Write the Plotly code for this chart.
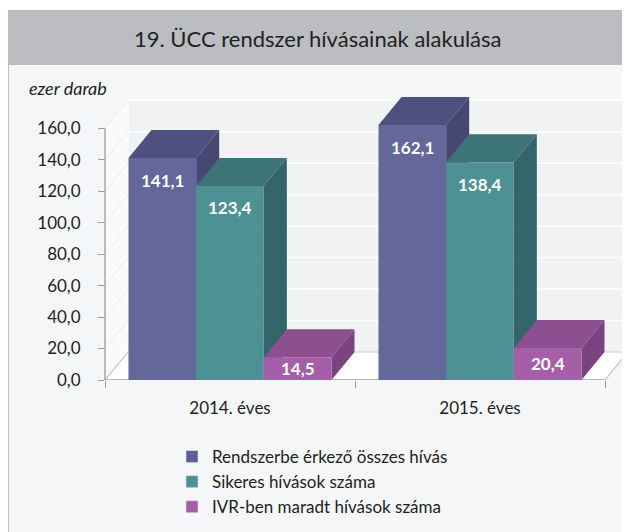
import plotly.graph_objects as go

# ---- data ----
categories = ["2014. éves", "2015. éves"]
series_names = ["Rendszerbe érkező összes hívás", "Sikeres hívások száma", "IVR-ben maradt hívások száma"]
total_calls = [141.1, 162.1]
successful_calls = [123.4, 138.4]
ivr_calls = [14.5, 20.4]
y_ticks = [0, 20, 40, 60, 80, 100, 120, 140, 160]
title_text = "19. ÜCC rendszer hívásainak alakulása"
unit_text = "ezer darab"

series_values = [total_calls, successful_calls, ivr_calls]
front_colors = ["#63679a", "#4e9195", "#a55ea8"]
top_colors = ["#4e5180", "#3d7478", "#8c4f90"]
side_colors = ["#464872", "#346568", "#7b4480"]
legend_colors = ["#5c5f97", "#4e9195", "#a55ea8"]

FONT = "Lato"
OFF = 8  # page body margin offset
W, H = 630 - OFF, 532 - OFF
ML, MR, MT, MB = 105 - OFF, 0, 89 - OFF, 152
PW, PH = W - ML - MR, H - MT - MB
XR = [-0.5, 1.6]
YR = [0, 185]
bar_w = 0.2707
dx = 0.092   # depth in x units
dy = 17.8    # depth in y units
xpos = [0, 1]


def px_x(p):
    # p given in reference-image pixels
    return (p - OFF - ML) / PW


def px_y(p):
    return (H - MB - (p - OFF)) / PH


fig = go.Figure()

shapes = []
# page panels (paper)
shapes.append(dict(type="rect", xref="paper", yref="paper", x0=px_x(8), x1=px_x(640),
                   y0=px_y(540), y1=px_y(65), fillcolor="#f5f6f7", line=dict(width=0), layer="below"))
shapes.append(dict(type="line", xref="paper", yref="paper", x0=px_x(8.5), x1=px_x(8.5),
                   y0=px_y(540), y1=px_y(65), line=dict(color="#c4c4c4", width=1.2), layer="below"))
shapes.append(dict(type="rect", xref="paper", yref="paper", x0=px_x(7), x1=px_x(640),
                   y0=px_y(65), y1=px_y(10), fillcolor="#bcbdc0", line=dict(width=0), layer="below"))

# walls and floor
x_left, x_right = -0.5, 1.5
ymax = y_ticks[-1]
shapes.append(dict(type="path", xref="x", yref="y", layer="below",
                   path=f"M{x_left+dx},{dy} L{x_right+dx},{dy} L{x_right+dx},{ymax+dy} L{x_left+dx},{ymax+dy} Z",
                   fillcolor="#f1f2f3", line=dict(color="#fbfbfb", width=1)))
shapes.append(dict(type="path", xref="x", yref="y", layer="below",
                   path=f"M{x_left},0 L{x_left+dx},{dy} L{x_left+dx},{ymax+dy} L{x_left},{ymax} Z",
                   fillcolor="#fafafa", line=dict(color="#fdfdfd", width=1)))
for v in y_ticks[1:]:
    shapes.append(dict(type="line", xref="x", yref="y", layer="below",
                       x0=x_left + dx, x1=x_right + dx, y0=v + dy, y1=v + dy,
                       line=dict(color="#ffffff", width=1.5)))
    shapes.append(dict(type="line", xref="x", yref="y", layer="below",
                       x0=x_left, x1=x_left + dx, y0=v, y1=v + dy,
                       line=dict(color="#e9eaeb", width=1)))
shapes.append(dict(type="path", xref="x", yref="y", layer="below",
                   path=f"M{x_left},0 L{x_right},0 L{x_right+dx},{dy} L{x_left+dx},{dy} Z",
                   fillcolor="#ffffff", line=dict(color="#c8c8c8", width=1.2)))
shapes.append(dict(type="line", xref="x", yref="y", layer="below",
                   x0=x_left, x1=x_right, y0=0, y1=0, line=dict(color="#a8a8a8", width=1.3)))

# 3D faces of bars
offsets = [-1.5 * bar_w + i * bar_w for i in range(3)]
for j in range(len(categories)):
    for i, vals in enumerate(series_values):
        v = vals[j]
        x0 = xpos[j] + offsets[i]
        x1 = x0 + bar_w
        shapes.append(dict(type="path", xref="x", yref="y", layer="below",
                           path=f"M{x0},{v} L{x1},{v} L{x1+dx},{v+dy} L{x0+dx},{v+dy} Z",
                           fillcolor=top_colors[i], line=dict(width=0)))
        shapes.append(dict(type="path", xref="x", yref="y", layer="below",
                           path=f"M{x1},0 L{x1},{v} L{x1+dx},{v+dy} L{x1+dx},{dy} Z",
                           fillcolor=side_colors[i], line=dict(width=0)))

# y axis line
shapes.append(dict(type="line", xref="paper", yref="y", x0=0, x1=0, y0=-2.5, y1=ymax,
                   line=dict(color="#9a9a9a", width=1.3), layer="above"))

# bars (front faces)
for i, vals in enumerate(series_values):
    fig.add_trace(go.Bar(
        x=xpos, y=vals, width=bar_w, offset=offsets[i],
        name=series_names[i], legendgroup=f"g{i}",
        marker=dict(color=front_colors[i], line=dict(width=0)),
        showlegend=False, hoverinfo="skip"))

# legend-only traces with legend colours
for i in range(3):
    fig.add_trace(go.Bar(x=[None], y=[None], name=series_names[i], legendgroup=f"g{i}",
                         marker=dict(color=legend_colors[i]), showlegend=True))

annotations = []
for j in range(len(categories)):
    for i, vals in enumerate(series_values):
        v = vals[j]
        ly = v - 14 if v > 40 else v / 2
        annotations.append(dict(x=xpos[j] + offsets[i] + bar_w / 2, y=ly, xref="x", yref="y",
                                text=f"<b>{v:.1f}</b>".replace(".", ","), showarrow=False,
                                font=dict(family=FONT, size=17, color="white"),
                                xanchor="center", yanchor="middle"))
annotations.append(dict(x=px_x(27), y=px_y(88), xref="paper", yref="paper", text=f"<i>{unit_text}</i>",
                        showarrow=False, xanchor="left", yanchor="middle",
                        font=dict(family=FONT, size=18, color="#1e1e1e")))
annotations.append(dict(x=px_x(318), y=px_y(39), xref="paper", yref="paper", text=title_text,
                        showarrow=False, xanchor="center", yanchor="middle",
                        font=dict(family=FONT, size=22, color="#222222")))

fig.update_layout(
    width=W, height=H,
    margin=dict(l=ML, r=MR, t=MT, b=MB, pad=0),
    paper_bgcolor="white", plot_bgcolor="rgba(0,0,0,0)",
    separators=", ",
    font=dict(family=FONT, color="#1e1e1e"),
    barmode="overlay",
    shapes=shapes, annotations=annotations,
    showlegend=True,
    legend=dict(x=px_x(172), y=px_y(439), xanchor="left", yanchor="top",
                orientation="v", font=dict(family=FONT, size=17, color="#1e1e1e"),
                bgcolor="rgba(0,0,0,0)", tracegroupgap=15.5, traceorder="normal"),
    xaxis=dict(range=XR, tickvals=xpos, ticktext=categories, showgrid=False, zeroline=False,
               showline=False, ticks="", tickfont=dict(family=FONT, size=17, color="#1e1e1e"),
               ticklabelstandoff=16,
               minor=dict(tickvals=[-0.5, 0.5, 1.5], ticks="outside", ticklen=7,
                          tickcolor="#9a9a9a", tickwidth=1.3, showgrid=False),
               fixedrange=True),
    yaxis=dict(range=YR, tickvals=y_ticks, tickformat=".1f", showgrid=False, zeroline=False,
               showline=False, ticks="outside", ticklen=6, tickcolor="#9a9a9a", tickwidth=1.3,
               tickfont=dict(family=FONT, size=17, color="#1e1e1e"), ticklabelstandoff=14,
               fixedrange=True),
)

fig.write_html("out.html")
